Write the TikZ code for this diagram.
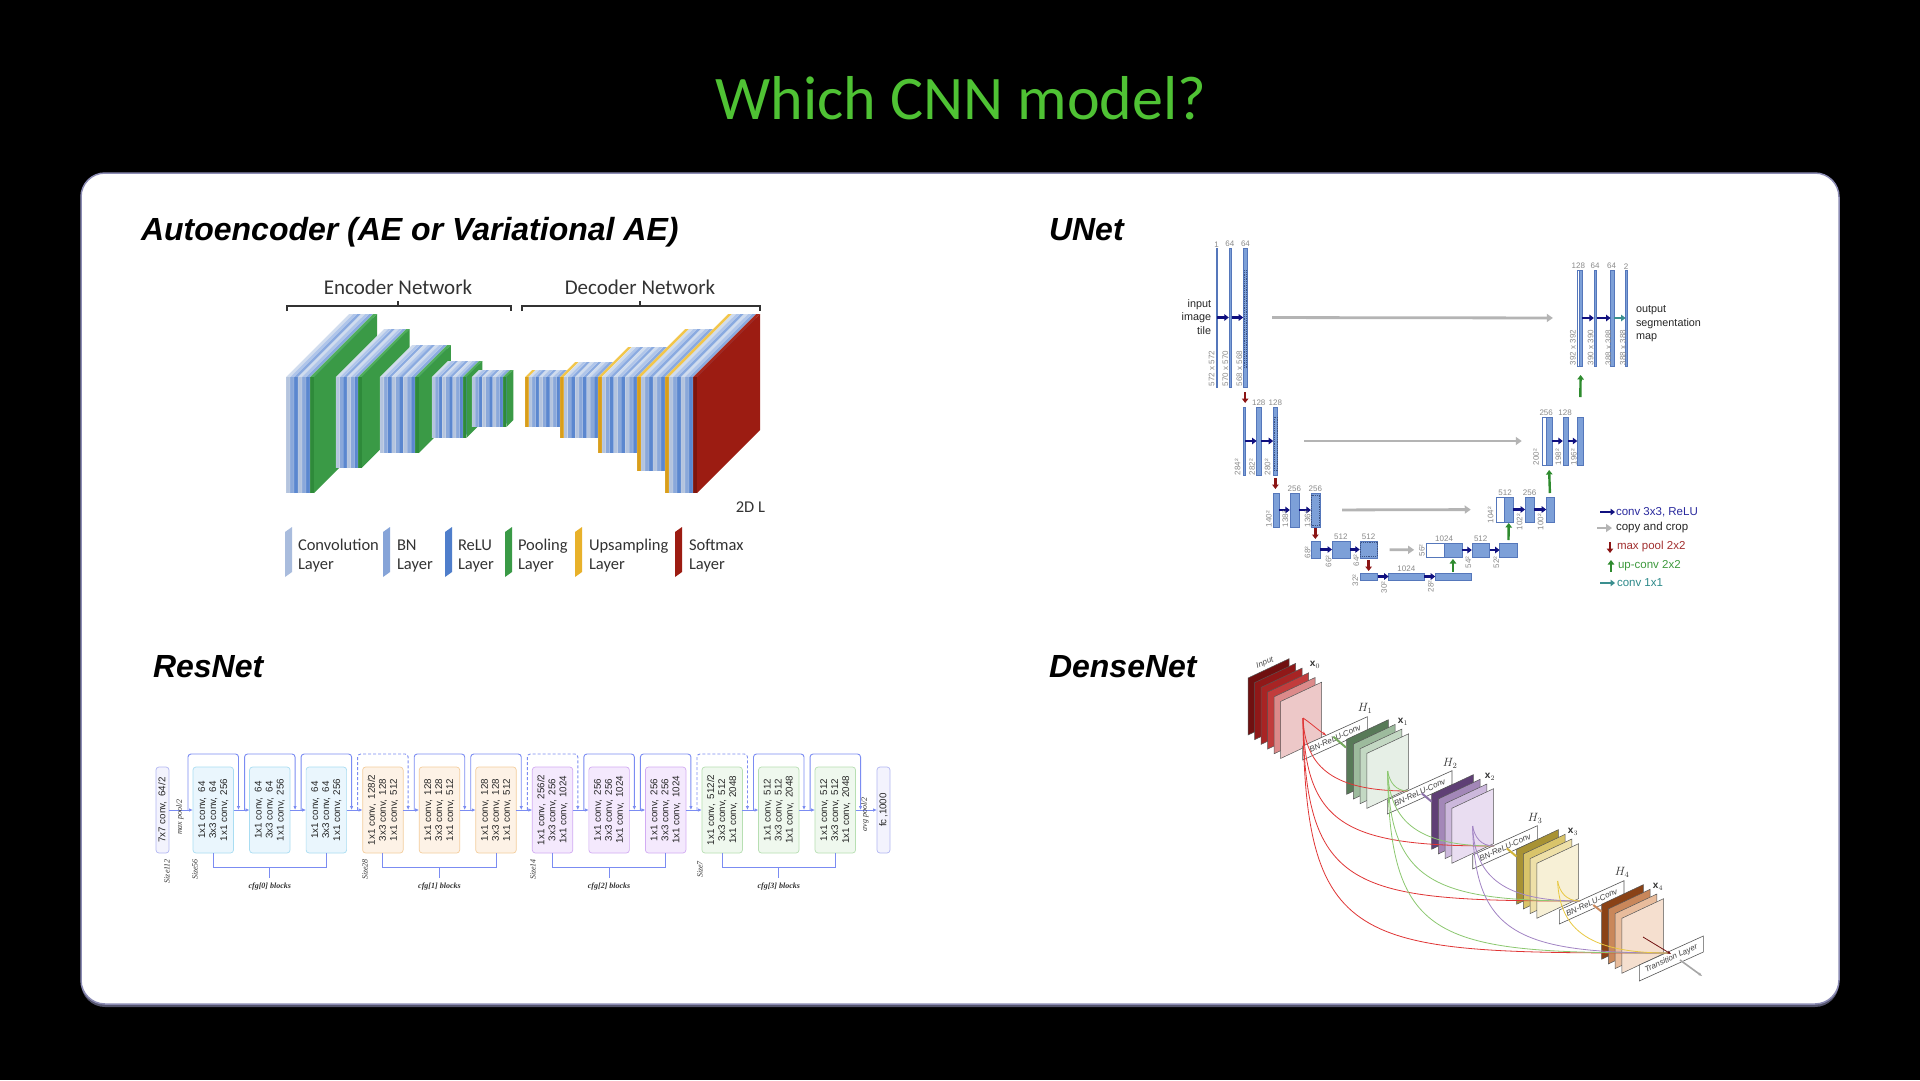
\documentclass[tikz,border=0pt]{standalone}
\usepackage{fontspec}
\setmainfont{Liberation Sans}
\newfontfamily\carlito{Carlito}
\newfontfamily\lserif{Liberation Serif}
\usetikzlibrary{arrows.meta,calc}

\definecolor{titleg}{HTML}{4FC234}
\definecolor{framec}{HTML}{8C8CB4}
\definecolor{aeline}{HTML}{333333}
\definecolor{aetext}{HTML}{333333}
\definecolor{convF}{HTML}{B4C4DE}\definecolor{convT}{HTML}{D0DCEE}\definecolor{convS}{HTML}{A9BCDD}
\definecolor{bnF}{HTML}{8AA8DA}\definecolor{bnT}{HTML}{AFC5EA}\definecolor{bnS}{HTML}{86A4D8}
\definecolor{reluF}{HTML}{5B87CF}\definecolor{reluT}{HTML}{8AAAE0}\definecolor{reluS}{HTML}{4F7ECB}
\definecolor{poolF}{HTML}{2E8A3A}\definecolor{poolT}{HTML}{4FAE5A}\definecolor{poolS}{HTML}{3A9A46}
\definecolor{upF}{HTML}{D99E1A}\definecolor{upT}{HTML}{F2C64A}\definecolor{upS}{HTML}{E8B12A}
\definecolor{softF}{HTML}{7E150D}\definecolor{softT}{HTML}{A8261A}\definecolor{softS}{HTML}{9C1C12}
\definecolor{ublue}{HTML}{7DA0D8}\definecolor{ublueD}{HTML}{5577BB}
\definecolor{unavy}{HTML}{10107F}\definecolor{ugray}{HTML}{B4B4B4}
\definecolor{ured}{HTML}{8B1515}\definecolor{ugreen}{HTML}{2E8B2E}\definecolor{uteal}{HTML}{3A8F8F}
\definecolor{ulabc}{HTML}{8A8A8A}
\definecolor{tnavy}{HTML}{2A2A9E}\definecolor{tred}{HTML}{A23030}\definecolor{tgreen}{HTML}{3E9A3E}\definecolor{tteal}{HTML}{2E8A8A}
\definecolor{rline}{HTML}{7B8CF2}
\definecolor{c0F}{HTML}{F3F3FD}\definecolor{c0D}{HTML}{B2B7F2}
\definecolor{c1F}{HTML}{EAF6FD}\definecolor{c1D}{HTML}{A9DDF2}
\definecolor{c2F}{HTML}{FDF2E6}\definecolor{c2D}{HTML}{F4CE9E}
\definecolor{c3F}{HTML}{F4E9FD}\definecolor{c3D}{HTML}{D2ACF3}
\definecolor{c4F}{HTML}{EFF8EE}\definecolor{c4D}{HTML}{B7DFB2}
\definecolor{dedge}{HTML}{555555}
\definecolor{d0a}{HTML}{701010}\definecolor{d0b}{HTML}{901818}\definecolor{d0c}{HTML}{A82424}
\definecolor{d0d}{HTML}{C23C3C}\definecolor{d0e}{HTML}{DC8A8A}\definecolor{d0f}{HTML}{EDC8C8}
\definecolor{d1a}{HTML}{587A58}\definecolor{d1b}{HTML}{9DBB9D}\definecolor{d1c}{HTML}{C3D8C3}\definecolor{d1d}{HTML}{E6EFE6}
\definecolor{d2a}{HTML}{5F3F75}\definecolor{d2b}{HTML}{A387B8}\definecolor{d2c}{HTML}{CCB8DC}\definecolor{d2d}{HTML}{E9DDF1}
\definecolor{d3a}{HTML}{A89234}\definecolor{d3b}{HTML}{D9C46A}\definecolor{d3c}{HTML}{EEE0A8}\definecolor{d3d}{HTML}{F7F0D6}
\definecolor{d4a}{HTML}{8A4216}\definecolor{d4b}{HTML}{C9875A}\definecolor{d4c}{HTML}{E8BC9C}\definecolor{d4d}{HTML}{F5DFCF}
\definecolor{cred}{HTML}{E03535}\definecolor{cgreen}{HTML}{8CC870}\definecolor{cpurp}{HTML}{A284C4}\definecolor{cyell}{HTML}{E8C840}

\newcount\lblc
\def\ux{1.10972}
% autoencoder plate: x ytop ybot depth thickness ; colours \cF \cT \cS
\newcommand\aeplate[5]{%
  \fill[fill=\cT] (#1,#2) -- ++(#4,-#4) -- ++(#5,0) -- ++(-#4,#4) -- cycle;
  \fill[fill=\cS] ({#1+#5},#2) -- ++(#4,-#4) -- ++(0,{#3-#2}) -- ++(-#4,#4) -- cycle;
  \fill[fill=\cF] (#1,#2) rectangle ({#1+#5},#3);
  \draw[white, line width=0.3, opacity=0.55] (#1,#3) -- (#1,#2) -- ++(#4,-#4);
}
\newcommand\aegroup[6]{%
  \foreach \t [count=\k from 0] in {#6} {%
    \pgfmathsetmacro\xx{#1+\k*#2}%
    \edef\cF{\t F}\edef\cT{\t T}\edef\cS{\t S}%
    \aeplate{\xx}{#3}{#4}{#5}{#2}%
  }%
}
\newcommand\legicon[2]{\fill[fill=#2S] (#1,532) -- ++(7,-5) -- ++(0,45) -- ++(-7,5) -- cycle;}
% unet bars
\newcommand\ub[6][ubar]{\node[#1, minimum width={(#4-#3)*\ux}, minimum height={#6-#5}] (#2) at ({(#3+#4)/2},{(#5+#6)/2}) {};}
\newcommand\ulab[3]{\global\advance\lblc by 1\relax\node[ulabst, anchor=south] (ul\the\lblc) at (#1,#2) {#3};}
\newcommand\urlab[3]{\global\advance\lblc by 1\relax\node[ulabst, rotate=90, anchor=west] (ul\the\lblc) at (#1,#2) {#3};}
% resnet
\newcommand\cv[2]{#1 conv,\enspace#2}
\newcommand\rblock[7]{%
  \node[rblk, fill=#3, draw=#4] (#1) at (#2,810) {};
  \node[rtxt] (#1t) at (#1) {#5\\#6\\#7};
}
% densenet
\newcommand\dplane[5]{\filldraw[fill=#5, draw=dedge, line width=0.5] (#1,#2) -- ++(#3,{-0.47*#3}) -- ++(0,#4) -- ++({-#3},{0.47*#3}) -- cycle;}
\newcommand\dhbox[6]{%
  \filldraw[fill=white, draw=dedge, line width=0.6] (#1,#2) -- ++(#3,{-0.453*#3}) -- ++(0,#4) -- ++({-#3},{0.453*#3}) -- cycle;
  \node[dtext, rotate=24.4] (#5) at ({#1+#3/2},{#2+#4/2-0.453*#3/2}) {#6};
}
\newcommand\dcurve[5]{\draw[dcurve, #1] let \p1=(#2), \p2=(#3) in (\p1) .. controls ({\x1+2pt},{\y1+#4*(\y2-\y1)}) and ({\x1+#5*(\x2-\x1)},{\y2}) .. (\p2);}

\begin{document}
\begin{tikzpicture}[x=1pt,y=-1pt,
  txt/.style={inner sep=0, outer sep=0},
  hdr/.style={txt, font=\fontsize{32}{36}\selectfont\bfseries\itshape, anchor=base west},
  aebrace/.style={draw=aeline, line width=1.1},
  aelab/.style={txt, font=\carlito\fontsize{16.5}{18}\selectfont, text=aetext, anchor=base west},
  ubar/.style={fill=ublue, draw=ublueD, line width=0.4, inner sep=0, outer sep=0},
  uwbar/.style={fill=white, draw=ublueD, line width=0.4, inner sep=0, outer sep=0},
  ucrop/.style={draw=ublueD!70!black, line width=0.5, dash pattern=on 1.2pt off 1pt},
  uconv/.style={draw=unavy, line width=2.2, -{Triangle[length=4.5pt,width=6.5pt]}},
  uone/.style={draw=uteal, line width=2.2, -{Triangle[length=4.5pt,width=6.5pt]}},
  ucopy/.style={draw=ugray, line width=2.8, -{Triangle[length=6pt,width=8pt]}},
  upool/.style={draw=ured, line width=2.4, -{Triangle[length=4.5pt,width=6.5pt]}},
  uup/.style={draw=ugreen, line width=2.4, -{Triangle[length=4.5pt,width=6.5pt]}},
  ulabst/.style={txt, font=\fontsize{8}{9}\selectfont, text=ulabc},
  utext/.style={txt, font=\fontsize{10.8}{13.5}\selectfont, text=black!85},
  uleg/.style={txt, font=\fontsize{11.5}{13}\selectfont, anchor=west},
  rblk/.style={rounded corners=3, line width=0.7, minimum width=40.5, minimum height=86, inner sep=0, outer sep=0},
  rtxt/.style={txt, rotate=90, align=center, font=\fontsize{9.8}{11}\selectfont, text=black!85},
  rarr/.style={draw=rline, line width=0.9, -{Latex[length=4pt,width=3.5pt]}},
  rln/.style={draw=rline, line width=0.9},
  rital/.style={txt, font=\lserif\itshape\fontsize{8}{9}\selectfont, text=black!80},
  dtext/.style={txt, font=\fontsize{8}{9}\selectfont\itshape, text=black!75},
  dcurve/.style={line width=0.8},
  dlab/.style={txt, font=\fontsize{10}{11}\selectfont, text=black!80}
]
\useasboundingbox (0,0) rectangle (1920,1080);
\fill[black] (0,0) rectangle (1920,1080);

% title and frame
\node[txt, font=\carlito\fontsize{62}{70}\selectfont, text=titleg, anchor=base] (title) at (961,119) {Which CNN model?};
\fill[framec!60!black, rounded corners=24] (81,177) rectangle (1839,1007);
\draw[framec, line width=1.5, fill=white, rounded corners=24] (81,173) rectangle (1839,1004);

% headers
\node[hdr] (hae) at (141,240) {Autoencoder (AE or Variational AE)};
\node[hdr] (hun) at (1049,240) {UNet};
\node[hdr] (hrn) at (153,677) {ResNet};
\node[hdr] (hdn) at (1049,677) {DenseNet};

% ================= Autoencoder =================
\node[txt, font=\carlito\fontsize{21}{24}\selectfont, text=aetext, anchor=base] (enc) at (398,294) {Encoder Network};
\node[txt, font=\carlito\fontsize{21}{24}\selectfont, text=aetext, anchor=base] (dec) at (640,294) {Decoder Network};
\draw[aebrace] (287,311) -- (287,306) -- (511,306) -- (511,311);
\draw[aebrace] (398,306) -- (398,301);
\draw[aebrace] (522,311) -- (522,306) -- (760,306) -- (760,311);
\draw[aebrace] (640,306) -- (640,301);

\aegroup{286}{4}{377}{493}{63}{conv,bn,relu,conv,bn,relu,pool}
\aegroup{336}{3.67}{377}{468}{48}{conv,bn,relu,conv,bn,relu,pool}
\aegroup{380}{3.89}{377}{453}{32}{conv,bn,relu,conv,bn,relu,conv,bn,relu,pool}
\aegroup{432}{3.44}{377}{438}{16}{conv,bn,relu,conv,bn,relu,conv,bn,relu,pool}
\aegroup{472}{3.44}{377}{427}{7}{conv,bn,relu,conv,bn,relu,conv,bn,relu,pool}
\aegroup{525}{3.5}{377}{427}{7}{up,conv,bn,relu,conv,bn,relu,conv,bn,relu}
\aegroup{560}{3.8}{377}{438}{15}{up,conv,bn,relu,conv,bn,relu,conv,bn,relu}
\aegroup{598}{3.9}{377}{453}{30}{up,conv,bn,relu,conv,bn,relu,conv,bn,relu}
\aegroup{637}{4}{377}{471}{48}{up,conv,bn,relu,conv,bn,relu}
\aegroup{665}{4}{377}{493}{63}{up,conv,bn,relu,conv,bn,relu,soft}

\node[aelab, anchor=base east] (twodl) at (765,512) {2D L};
\legicon{285}{conv}\legicon{383}{bn}\legicon{445}{relu}\legicon{505}{pool}\legicon{575}{up}\legicon{675}{soft}
\node[aelab] (lg1a) at (298,550) {Convolution};\node[aelab] (lg1b) at (298,569) {Layer};
\node[aelab] (lg2a) at (397,550) {BN};\node[aelab] (lg2b) at (397,569) {Layer};
\node[aelab] (lg3a) at (458,550) {ReLU};\node[aelab] (lg3b) at (458,569) {Layer};
\node[aelab] (lg4a) at (518,550) {Pooling};\node[aelab] (lg4b) at (518,569) {Layer};
\node[aelab] (lg5a) at (589,550) {Upsampling};\node[aelab] (lg5b) at (589,569) {Layer};
\node[aelab] (lg6a) at (689,550) {Softmax};\node[aelab] (lg6b) at (689,569) {Layer};

% ================= UNet =================
\begin{scope}[x=1.10972pt, xshift=-126.18pt]
\ub{l1a}{1209.4}{1210.6}{248}{387}
\ub{l1b}{1221}{1223.5}{248}{387}
\ub{l1c}{1234}{1237.5}{248}{387}
\draw[ucrop] (1234.6,270) rectangle (1236.9,367);
\ub{l2a}{1234}{1236}{407}{475}
\ub{l2b}{1246}{1250}{407}{475}
\ub{l2c}{1261}{1265}{407}{475}
\draw[ucrop] (1261.6,417) rectangle (1264.4,470);
\ub{l3a}{1261}{1266}{493}{527}
\ub{l3b}{1276}{1284}{493}{527}
\ub{l3c}{1295}{1303}{493}{527}
\draw[ucrop] (1295.6,495) rectangle (1302.4,525);
\ub{l4a}{1295}{1303}{541}{558}
\ub{l4b}{1314}{1330}{541}{558}
\ub{l4c}{1339}{1355}{541}{558}
\draw[ucrop] (1339.6,542.5) rectangle (1354.4,556.5);
\ub{l5a}{1339}{1355}{573}{580}
\ub{l5b}{1365}{1397}{573}{580}
\ub{l5c}{1407}{1439}{573}{580}
\ub[uwbar]{r4w}{1399}{1415}{543}{557}
\ub{r4a}{1415}{1431}{543}{557}
\ub{r4b}{1440}{1456}{543}{557}
\ub{r4c}{1465}{1481}{543}{557}
\ub[uwbar]{r3w}{1462}{1469.5}{497}{522}
\ub{r3a}{1469.5}{1477}{497}{522}
\ub{r3b}{1488}{1496}{497}{522}
\ub{r3c}{1507}{1514}{497}{522}
\ub[uwbar]{r2w}{1503}{1507}{417}{465}
\ub{r2a}{1507}{1512}{417}{465}
\ub{r2b}{1522}{1527}{417}{465}
\ub{r2c}{1535}{1540}{417}{465}
\ub[uwbar]{r1w}{1535}{1536.8}{270}{366}
\ub{r1a}{1536.8}{1539.5}{270}{366}
\ub{r1b}{1550}{1552.5}{270}{366}
\ub{r1c}{1565}{1568}{270}{366}
\ub{r1d}{1578.5}{1579.7}{270}{366}

% conv arrows
\foreach \a/\b in {l1a/l1b,l1b/l1c,l2a/l2b,l2b/l2c,l3a/l3b,l3b/l3c,l4a/l4b,l4b/l4c,l5a/l5b,l5b/l5c,r4a/r4b,r4b/r4c,r3a/r3b,r3b/r3c,r2a/r2b,r2b/r2c,r1a/r1b,r1b/r1c}
  \draw[uconv] (\a) -- (\b);
\draw[uone] (r1c) -- (r1d);
% copy and crop
\draw[ucopy, shorten <=25pt, shorten >=24.4pt] (l1c) -- (r1w);
\draw[ucopy, shorten <=26.6pt, shorten >=20pt] (l2c) -- (r2w);
\draw[ucopy, shorten <=22.2pt, shorten >=25.5pt] (l3c) -- (r3w);
\draw[ucopy, shorten <=12.2pt, shorten >=12.2pt] (l4c) -- (r4w);
% max pool
\draw[upool, shorten <=5pt, shorten >=4pt] (l1c.south) -- (l1c.south |- l2a.north);
\draw[upool, shorten <=3pt, shorten >=4pt] (l2c.south) -- (l2c.south |- l3a.north);
\draw[upool, shorten <=1pt, shorten >=2pt] (l3c.south) -- (l4a.north);
\draw[upool, shorten <=2pt, shorten >=2pt] (l4c.south) -- (l5a.north);
% up conv
\draw[uup, shorten <=1pt, shorten >=2pt] (l5c.north) -- (r4a.south);
\draw[uup, shorten <=3pt, shorten >=1pt] (r4c.north) -- (r3a.south);
\draw[uup, shorten <=4pt, shorten >=5pt] (r3c.north) -- (r2a.south);
\draw[uup, shorten <=20pt, shorten >=9pt] (r2c.north) -- (r1a.south);

% unet labels
\ulab{1210}{247}{1}\ulab{1222}{247}{64}\ulab{1236}{247}{64}
\ulab{1248}{406}{128}\ulab{1263}{406}{128}
\ulab{1280}{492}{256}\ulab{1299}{492}{256}
\ulab{1322}{540}{512}\ulab{1347}{540}{512}
\ulab{1381}{572}{1024}
\ulab{1415}{542}{1024}\ulab{1448}{542}{512}
\ulab{1470}{496}{512}\ulab{1492}{496}{256}
\ulab{1507}{416}{256}\ulab{1524}{416}{128}
\ulab{1536}{269}{128}\ulab{1551}{269}{64}\ulab{1566}{269}{64}\ulab{1579}{269}{2}
\urlab{1205.5}{386}{572 x 572}\urlab{1218}{386}{570 x 570}\urlab{1230.5}{386}{568 x 568}
\urlab{1229}{475}{284²}\urlab{1242}{475}{282²}\urlab{1256}{475}{280²}
\urlab{1257}{527}{140²}\urlab{1272}{527}{138²}\urlab{1292}{527}{136²}
\urlab{1292}{558}{68²}\urlab{1311}{567}{66²}\urlab{1336}{566}{64²}
\urlab{1335}{586}{32²}\urlab{1361}{593}{30²}\urlab{1403}{592}{28²}
\urlab{1395}{556}{56²}\urlab{1437}{568}{54²}\urlab{1462}{568}{52²}
\urlab{1457}{523}{104²}\urlab{1483}{530}{102²}\urlab{1502}{530}{100²}
\urlab{1498}{465}{200²}\urlab{1518}{465}{198²}\urlab{1532}{465}{196²}
\urlab{1531}{365}{392 x 392}\urlab{1547}{365}{390 x 390}\urlab{1563}{365}{388 x 388}\urlab{1576}{365}{388 x 388}
\node[utext, anchor=east, align=right] (uin) at (1205,317) {input\\image\\tile};
\node[utext, anchor=west, align=left] (uout) at (1588,324) {output\\segmentation\\map};
\end{scope}
% unet legend
\draw[uconv] (1600,512) -- (1615,512);
\node[uleg, text=tnavy] (ul1) at (1616,512) {conv 3x3, ReLU};
\draw[ucopy] (1597,528) -- (1612,528);
\node[uleg, text=black!85] (ul2) at (1616,528) {copy and crop};
\draw[upool] (1610,542) -- (1610,553);
\node[uleg, text=tred] (ul3) at (1617,547) {max pool 2x2};
\draw[uup] (1611,572) -- (1611,560);
\node[uleg, text=tgreen] (ul4) at (1618,566) {up-conv 2x2};
\draw[uone] (1600,583) -- (1615,583);
\node[uleg, text=tteal] (ul5) at (1617,583) {conv 1x1};

% ================= ResNet =================
\node[rblk, fill=c0F, draw=c0D, minimum width=13] (conv7) at (162.5,810) {};
\node[rtxt] (conv7t) at (conv7) {7x7 conv,\enspace64/2};
\node[rblk, fill=c0F, draw=c0D, minimum width=13] (fc) at (883.5,810) {};
\node[rtxt] (fct) at (fc) {fc\,,1000};
\rblock{b1}{213.25}{c1F}{c1D}{\cv{1x1}{64}}{\cv{3x3}{64}}{\cv{1x1}{256}}
\rblock{b2}{269.8}{c1F}{c1D}{\cv{1x1}{64}}{\cv{3x3}{64}}{\cv{1x1}{256}}
\rblock{b3}{326.35}{c1F}{c1D}{\cv{1x1}{64}}{\cv{3x3}{64}}{\cv{1x1}{256}}
\rblock{b4}{382.9}{c2F}{c2D}{\cv{1x1}{128/2}}{\cv{3x3}{128}}{\cv{1x1}{512}}
\rblock{b5}{439.45}{c2F}{c2D}{\cv{1x1}{128}}{\cv{3x3}{128}}{\cv{1x1}{512}}
\rblock{b6}{496}{c2F}{c2D}{\cv{1x1}{128}}{\cv{3x3}{128}}{\cv{1x1}{512}}
\rblock{b7}{552.55}{c3F}{c3D}{\cv{1x1}{256/2}}{\cv{3x3}{256}}{\cv{1x1}{1024}}
\rblock{b8}{609.1}{c3F}{c3D}{\cv{1x1}{256}}{\cv{3x3}{256}}{\cv{1x1}{1024}}
\rblock{b9}{665.65}{c3F}{c3D}{\cv{1x1}{256}}{\cv{3x3}{256}}{\cv{1x1}{1024}}
\rblock{b10}{722.2}{c4F}{c4D}{\cv{1x1}{512/2}}{\cv{3x3}{512}}{\cv{1x1}{2048}}
\rblock{b11}{778.75}{c4F}{c4D}{\cv{1x1}{512}}{\cv{3x3}{512}}{\cv{1x1}{2048}}
\rblock{b12}{835.3}{c4F}{c4D}{\cv{1x1}{512}}{\cv{3x3}{512}}{\cv{1x1}{2048}}
\draw[rarr] (conv7) -- (b1);
\foreach \i [evaluate=\i as \j using int(\i+1)] in {1,...,11} \draw[rarr] (b\i) -- (b\j);
\draw[rarr] (b12) -- (fc);
\foreach \i in {1,2,3,5,6,8,9,11,12}
  \draw[rarr, rounded corners=3] ([xshift=-5pt]b\i.west) |- ([xshift=5pt,yshift=13pt]b\i.north east) -- ([xshift=5pt]b\i.east);
\foreach \i in {4,7,10}
  \draw[rarr, dash pattern=on 3pt off 2pt, rounded corners=3] ([xshift=-5pt]b\i.west) |- ([xshift=5pt,yshift=13pt]b\i.north east) -- ([xshift=5pt]b\i.east);
\foreach \a/\m/\c/\k in {b1/b2/b3/0,b4/b5/b6/1,b7/b8/b9/2,b10/b11/b12/3}{
  \draw[rln] (\a.south) -- ++(0,14) -| (\c.south);
  \draw[rln] ([yshift=-14pt]\m.south) -- ++(0,11);
  \node[rital, font=\lserif\itshape\bfseries\fontsize{8}{9}\selectfont, anchor=base] (cfg\k) at ([yshift=-35pt]\m.south) {cfg[\k] blocks};
}
\node[rital, rotate=90] (mp) at (180,817) {max pool/2};
\node[rital, rotate=90] (ap) at (865,814) {avg pool/2};
\node[rital, rotate=90, anchor=east] (s112) at (167,859) {Size112};
\node[rital, rotate=90, anchor=east] (s56) at (195,859) {Size56};
\node[rital, rotate=90, anchor=east] (s28) at (365,859) {Size28};
\node[rital, rotate=90, anchor=east] (s14) at (533,859) {Size14};
\node[rital, rotate=90, anchor=east] (s7) at (700,861) {Size7};

% ================= DenseNet =================
\foreach \c [count=\i from 0] in {d0a,d0b,d0c,d0d,d0e,d0f} {\dplane{1248+6.5*\i}{678+4.7*\i}{41}{57}{\c}}
\dhbox{1302.7}{746}{64.7}{14}{h1}{BN-ReLU-Conv}
\foreach \c [count=\i from 0] in {d1a,d1b,d1c,d1d} {\dplane{1346.7+6.7*\i}{739.3+4.7*\i}{41.7}{55}{\c}}
\dhbox{1387.3}{800}{64.7}{14}{h2}{BN-ReLU-Conv}
\foreach \c [count=\i from 0] in {d2a,d2b,d2c,d2d} {\dplane{1431.7+6.7*\i}{794.2+4.7*\i}{41.7}{55}{\c}}
\dhbox{1472.7}{855}{64.7}{14}{h3}{BN-ReLU-Conv}
\foreach \c [count=\i from 0] in {d3a,d3b,d3c,d3d} {\dplane{1516.7+6.7*\i}{849.2+4.7*\i}{41.7}{55}{\c}}
\dhbox{1559.3}{910}{64.7}{14}{h4}{BN-ReLU-Conv}
\foreach \c [count=\i from 0] in {d4a,d4b,d4c,d4d} {\dplane{1601.7+6.7*\i}{904.2+4.7*\i}{41.7}{55}{\c}}
\dhbox{1639.3}{965}{64}{16}{tl}{Transition Layer}

\coordinate (s0) at (1303,718);
\coordinate (s1) at (1387.6,771);
\coordinate (s2) at (1472.6,826);
\coordinate (s3) at (1557.6,881);
\coordinate (s4) at (1643,937);
\coordinate (h1in) at (1326,735);
\coordinate (h2in) at (1408,791);
\coordinate (h3in) at (1494,846);
\coordinate (h4in) at (1580,901);
\coordinate (tin) at (1668,953);
\coordinate (h1out) at (1333.3,736.7);\coordinate (x1in) at (1346,747.5);
\coordinate (h2out) at (1421.7,793.3);\coordinate (x2in) at (1431.7,801.7);
\coordinate (h3out) at (1506.7,848.3);\coordinate (x3in) at (1516.5,856.5);
\coordinate (h4out) at (1593.3,905);\coordinate (x4in) at (1601.7,911.7);
\coordinate (gout1) at (1680,960);\coordinate (gout2) at (1702,976);

\draw[line width=2, cgreen!85!black] (h1out) -- (x1in);
\draw[line width=2, cpurp!85!black] (h2out) -- (x2in);
\draw[line width=2, cyell!90!black] (h3out) -- (x3in);
\draw[line width=2, d4b] (h4out) -- (x4in);
\draw[line width=1.6, black!35, -{Stealth[length=4pt,width=3pt]}] (gout1) -- (gout2);

\draw[dcurve, cred, -{Stealth[length=4pt,width=3pt]}] (s0) .. controls (1312,724) and (1318,730) .. (h1in);
\dcurve{cred}{s0}{h2in}{0.7}{0.31}
\dcurve{cred}{s0}{h3in}{0.85}{0.24}
\dcurve{cred}{s0}{h4in}{0.95}{0.18}
\dcurve{cred}{s0}{tin}{1.0}{0.15}
\dcurve{cgreen}{s1}{h2in}{0.55}{0.38}
\dcurve{cgreen}{s1}{h3in}{0.7}{0.31}
\dcurve{cgreen}{s1}{h4in}{0.85}{0.24}
\dcurve{cgreen}{s1}{tin}{0.95}{0.18}
\dcurve{cpurp}{s2}{h3in}{0.55}{0.38}
\dcurve{cpurp}{s2}{h4in}{0.7}{0.31}
\dcurve{cpurp}{s2}{tin}{0.85}{0.24}
\dcurve{cyell}{s3}{h4in}{0.55}{0.38}
\dcurve{cyell}{s3}{tin}{0.7}{0.31}
\draw[dcurve, d0a, -{Stealth[length=4pt,width=3pt]}] (s4) -- (1671,954);

\node[dtext, rotate=22, text=black!70] (inp) at (1265,663) {Input};
\node[dlab] (xl0) at (1315,665) {$\mathbf{x}_0$};
\node[dlab] (xl1) at (1403,722) {$\mathbf{x}_1$};
\node[dlab] (xl2) at (1490,777) {$\mathbf{x}_2$};
\node[dlab] (xl3) at (1573,832) {$\mathbf{x}_3$};
\node[dlab] (xl4) at (1658,887) {$\mathbf{x}_4$};
\node[dlab, font=\fontsize{12}{13}\selectfont] (hl1) at (1365,708) {$H_1$};
\node[dlab, font=\fontsize{12}{13}\selectfont] (hl2) at (1450,763) {$H_2$};
\node[dlab, font=\fontsize{12}{13}\selectfont] (hl3) at (1535,818) {$H_3$};
\node[dlab, font=\fontsize{12}{13}\selectfont] (hl4) at (1622,872) {$H_4$};
\end{tikzpicture}
\end{document}
